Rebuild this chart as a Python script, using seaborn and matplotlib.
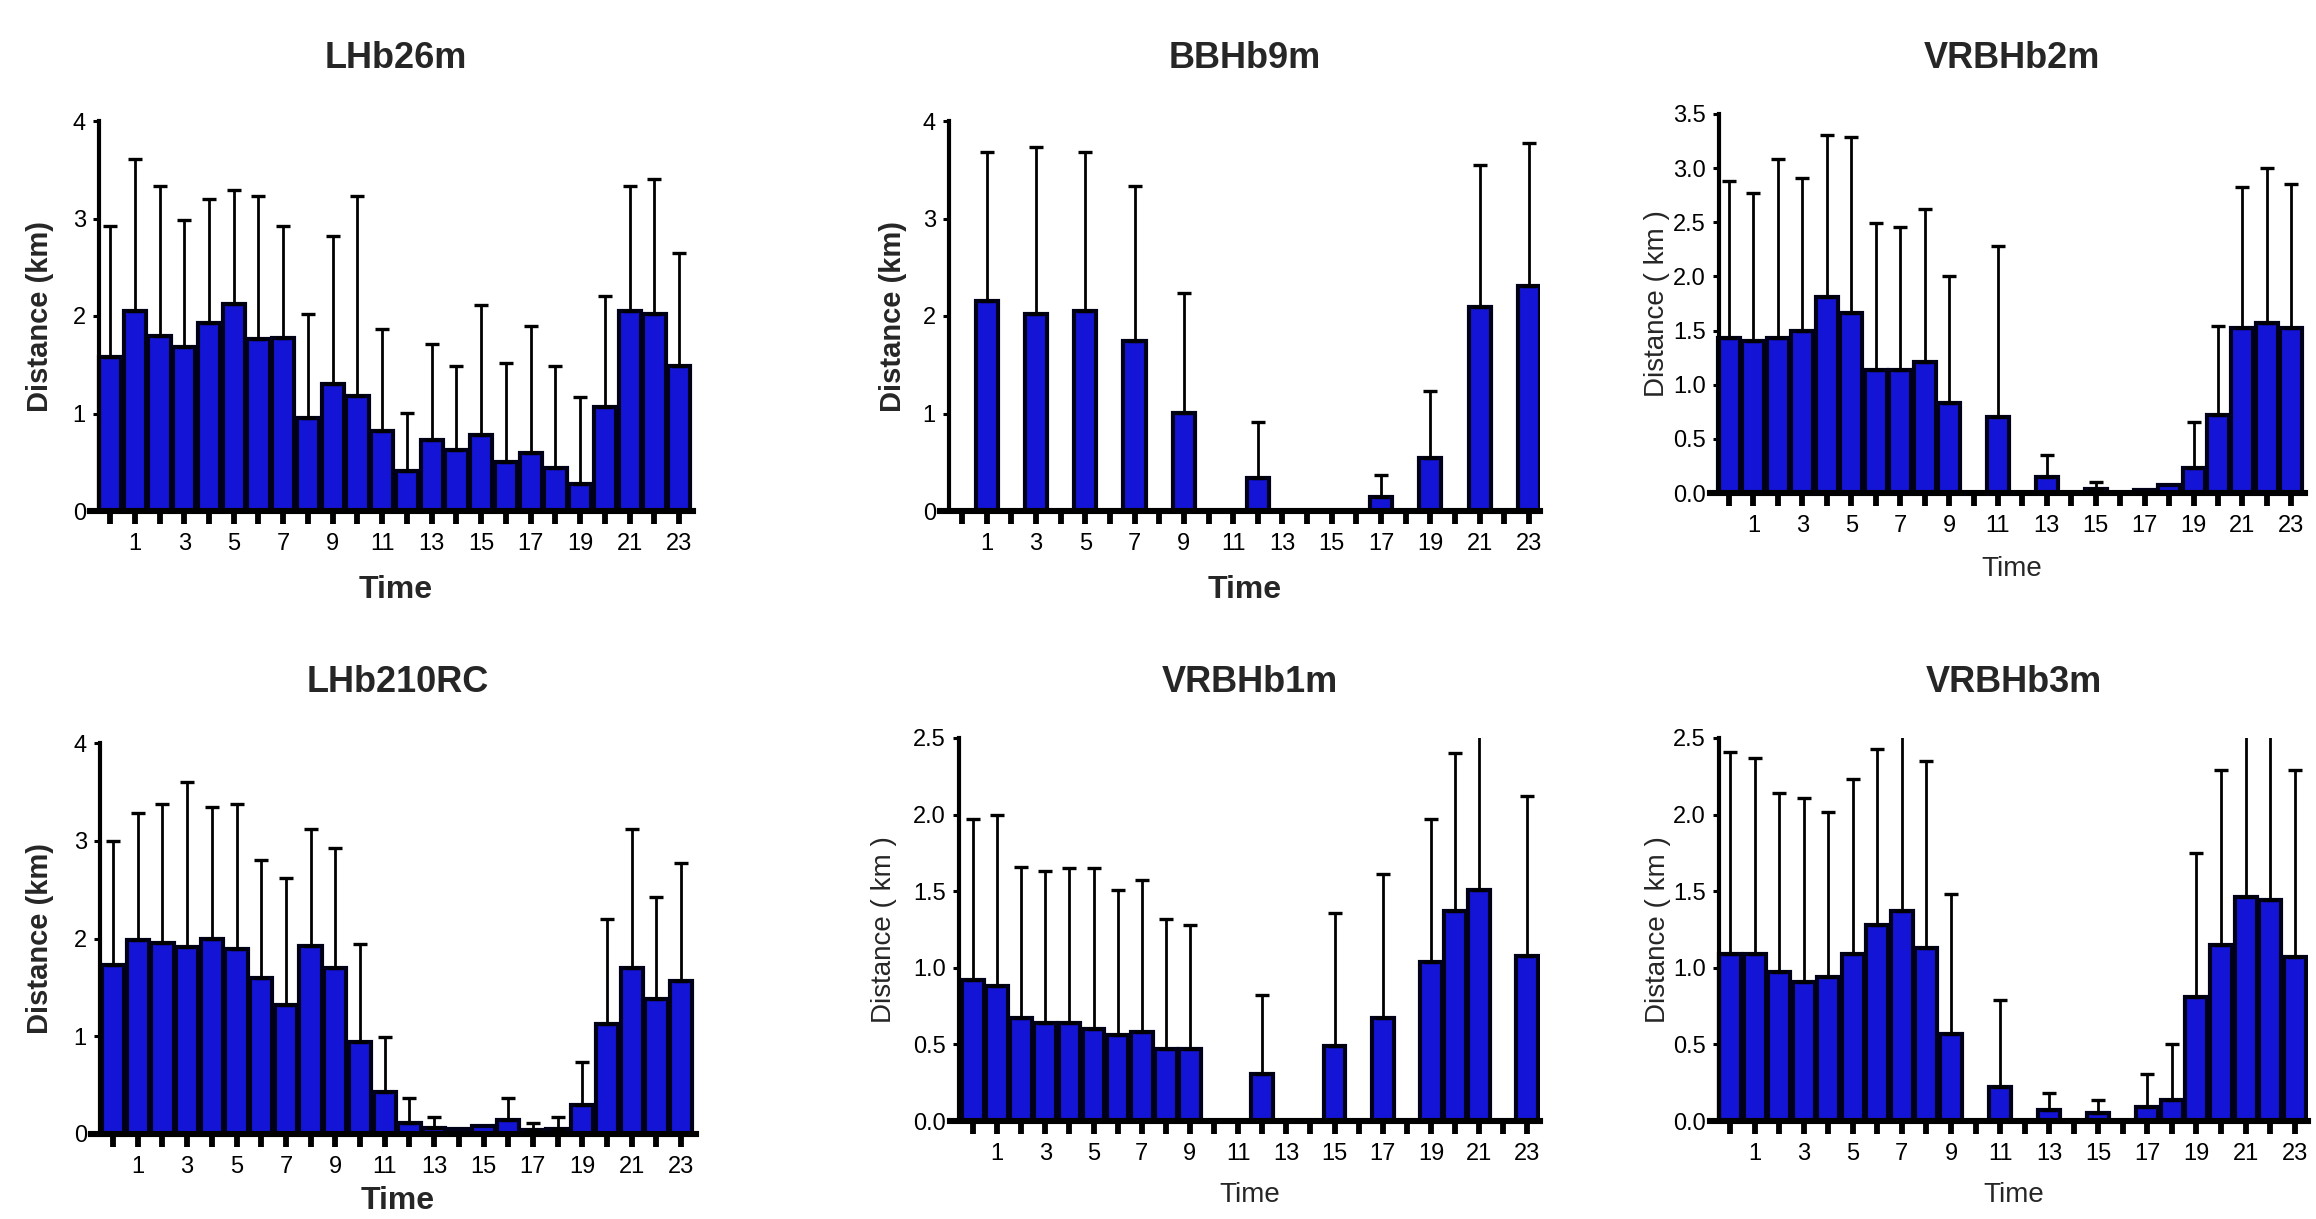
import numpy as np
import pandas as pd
import matplotlib
matplotlib.use("Agg")
import matplotlib.pyplot as plt
import seaborn as sns

# ---------------- data ----------------
hours = list(range(24))
xtick_labels = [str(h) if h % 2 == 1 else "" for h in hours]

titles = ["LHb26m", "BBHb9m", "VRBHb2m", "LHb210RC", "VRBHb1m", "VRBHb3m"]

lhb26m_mean = [1.58, 2.05, 1.80, 1.68, 1.93, 2.12, 1.76, 1.77, 0.95, 1.30, 1.18, 0.82,
               0.41, 0.73, 0.63, 0.78, 0.50, 0.60, 0.44, 0.28, 1.07, 2.05, 2.02, 1.49]
lhb26m_sd = [1.34, 1.56, 1.53, 1.30, 1.27, 1.17, 1.47, 1.15, 1.07, 1.52, 2.05, 1.05,
             0.60, 0.98, 0.86, 1.33, 1.02, 1.30, 1.05, 0.89, 1.14, 1.28, 1.39, 1.16]

bbhb9m_mean = [0, 2.15, 0, 2.02, 0, 2.05, 0, 1.74, 0, 1.01, 0, 0,
               0.34, 0, 0, 0, 0, 0.14, 0, 0.54, 0, 2.09, 0, 2.31]
bbhb9m_sd = [0, 1.53, 0, 1.71, 0, 1.63, 0, 1.59, 0, 1.23, 0, 0,
             0.57, 0, 0, 0, 0, 0.23, 0, 0.69, 0, 1.46, 0, 1.46]

vrbhb2m_mean = [1.43, 1.40, 1.43, 1.50, 1.81, 1.66, 1.14, 1.14, 1.21, 0.83, 0, 0.70,
                0, 0.15, 0, 0.04, 0, 0.03, 0.07, 0.23, 0.72, 1.52, 1.57, 1.52]
vrbhb2m_sd = [1.45, 1.37, 1.65, 1.41, 1.50, 1.63, 1.35, 1.32, 1.41, 1.17, 0, 1.58,
              0, 0.20, 0, 0.06, 0, 0, 0, 0.43, 0.82, 1.31, 1.43, 1.33]

lhb210rc_mean = [1.73, 1.98, 1.95, 1.91, 1.99, 1.89, 1.60, 1.32, 1.92, 1.70, 0.94, 0.43,
                 0.11, 0.06, 0.05, 0.08, 0.14, 0.04, 0.05, 0.30, 1.13, 1.70, 1.38, 1.57]
lhb210rc_sd = [1.27, 1.30, 1.43, 1.69, 1.36, 1.49, 1.20, 1.30, 1.20, 1.23, 1.00, 0.56,
               0.26, 0.11, 0, 0, 0.23, 0.07, 0.12, 0.44, 1.07, 1.42, 1.04, 1.20]

vrbhb1m_mean = [0.92, 0.88, 0.67, 0.64, 0.64, 0.60, 0.56, 0.58, 0.47, 0.47, 0, 0,
                0.31, 0, 0, 0.49, 0, 0.67, 0, 1.04, 1.37, 1.51, 0, 1.08]
vrbhb1m_sd = [1.05, 1.12, 0.99, 0.99, 1.01, 1.05, 0.95, 0.99, 0.85, 0.81, 0, 0,
              0.51, 0, 0, 0.87, 0, 0.94, 0, 0.93, 1.03, 1.19, 0, 1.04]

vrbhb3m_mean = [1.09, 1.09, 0.97, 0.91, 0.94, 1.09, 1.28, 1.37, 1.13, 0.57, 0, 0.22,
                0, 0.07, 0, 0.05, 0, 0.09, 0.14, 0.81, 1.15, 1.46, 1.44, 1.07]
vrbhb3m_sd = [1.32, 1.28, 1.17, 1.20, 1.08, 1.14, 1.15, 1.25, 1.22, 0.91, 0, 0.57,
              0, 0.11, 0, 0.09, 0, 0.22, 0.36, 0.94, 1.14, 1.25, 1.20, 1.22]

means = [lhb26m_mean, bbhb9m_mean, vrbhb2m_mean, lhb210rc_mean, vrbhb1m_mean, vrbhb3m_mean]
sds = [lhb26m_sd, bbhb9m_sd, vrbhb2m_sd, lhb210rc_sd, vrbhb1m_sd, vrbhb3m_sd]

yticks_int4 = [0, 1, 2, 3, 4]
yticks_35 = [0.0, 0.5, 1.0, 1.5, 2.0, 2.5, 3.0, 3.5]
yticks_25 = [0.0, 0.5, 1.0, 1.5, 2.0, 2.5]

# ---------------- style ----------------
sns.set_theme(style="white")
plt.rcParams["font.family"] = ["Liberation Sans", "DejaVu Sans"]

W, H = 2316, 1219
fig = plt.figure(figsize=(W / 100, H / 100), dpi=100)
fig.patch.set_facecolor("white")

BAR = "#1414d6"
EDGE = "#000018"

# layout in pixels
layout = [
    dict(spine=99, h0=110, sp=24.75, right=693, top=121, bottom=511, ty=58, xly=590, yly=40, bold=True,
         yt=yticks_int4, fmt="{:.0f}", ymax=4),
    dict(spine=949, h0=962, sp=24.65, right=1540, top=121, bottom=511, ty=58, xly=590, yly=893, bold=True,
         yt=yticks_int4, fmt="{:.0f}", ymax=4),
    dict(spine=1719, h0=1729, sp=24.45, right=2305, top=114, bottom=493, ty=58, xly=569, yly=1657, bold=False,
         yt=yticks_35, fmt="{:.1f}", ymax=3.5),
    dict(spine=100, h0=113, sp=24.7, right=696, top=743, bottom=1134, ty=683, xly=1201, yly=40, bold=True,
         yt=yticks_int4, fmt="{:.0f}", ymax=4),
    dict(spine=959, h0=973, sp=24.1, right=1540, top=738, bottom=1121, ty=683, xly=1195, yly=884, bold=False,
         yt=yticks_25, fmt="{:.1f}", ymax=2.5),
    dict(spine=1719, h0=1730, sp=24.55, right=2308, top=738, bottom=1121, ty=683, xly=1195, yly=1658, bold=False,
         yt=yticks_25, fmt="{:.1f}", ymax=2.5),
]

for i, L in enumerate(layout):
    ax_left = L["spine"] - 9
    wpx = L["right"] - ax_left
    hpx = L["bottom"] - L["top"]
    ax = fig.add_axes([ax_left / W, 1 - L["bottom"] / H, wpx / W, hpx / H])
    ax.set_facecolor("none")

    df = pd.DataFrame({"Time": hours, "Distance": means[i]})
    sns.barplot(data=df, x="Time", y="Distance", ax=ax, color=BAR, saturation=1,
                width=0.9, edgecolor=EDGE, linewidth=3.0, errorbar=None, zorder=2)

    m = np.asarray(means[i], dtype=float)
    s = np.asarray(sds[i], dtype=float)
    idx = s > 0
    x = np.asarray(hours)[idx]
    ax.errorbar(x, m[idx], yerr=[np.zeros(idx.sum()), s[idx]], fmt="none",
                ecolor="black", elinewidth=2.0, capsize=5, capthick=2.4, zorder=3)

    x0 = (ax_left - L["h0"]) / L["sp"]
    x1 = (L["right"] - L["h0"]) / L["sp"]
    ax.set_xlim(x0, x1)
    ax.set_ylim(0, L["ymax"])

    for side in ["top", "right"]:
        ax.spines[side].set_visible(False)
    ax.spines["left"].set_position(("data", (L["spine"] - L["h0"]) / L["sp"]))
    ax.spines["left"].set_linewidth(3.0)
    ax.spines["bottom"].set_linewidth(4.4)
    ax.spines["left"].set_color("black")
    ax.spines["bottom"].set_color("black")

    ax.set_xticks(hours)
    ax.set_xticklabels(xtick_labels)
    ax.set_yticks(L["yt"])
    ax.set_yticklabels([L["fmt"].format(v) for v in L["yt"]])
    ax.tick_params(axis="x", direction="out", length=9.5, width=4.2, pad=6,
                   labelsize=17, colors="black", bottom=True)
    ax.tick_params(axis="y", direction="out", length=4.5, width=2.2, pad=5,
                   labelsize=17, colors="black", left=True)

    weight = "bold" if L["bold"] else "normal"
    ylab = "Distance (km)" if L["bold"] else "Distance ( km )"
    ax.set_ylabel(ylab, fontsize=21 if L["bold"] else 20, fontweight=weight, va="center")
    ax.yaxis.set_label_coords((L["yly"] - ax_left) / wpx, 0.5)
    ax.set_xlabel("Time", fontsize=23 if L["bold"] else 20, fontweight=weight, va="center")
    cx = (L["spine"] + L["right"]) / 2
    ax.xaxis.set_label_coords((cx - ax_left) / wpx, -(L["xly"] - L["bottom"]) / hpx)
    ax.set_title(titles[i], fontsize=26, fontweight="bold", va="center", pad=0,
                 x=(cx - ax_left) / wpx, y=1 + (L["top"] - L["ty"]) / hpx)

fig.savefig("out.png", dpi=100, facecolor="white")
